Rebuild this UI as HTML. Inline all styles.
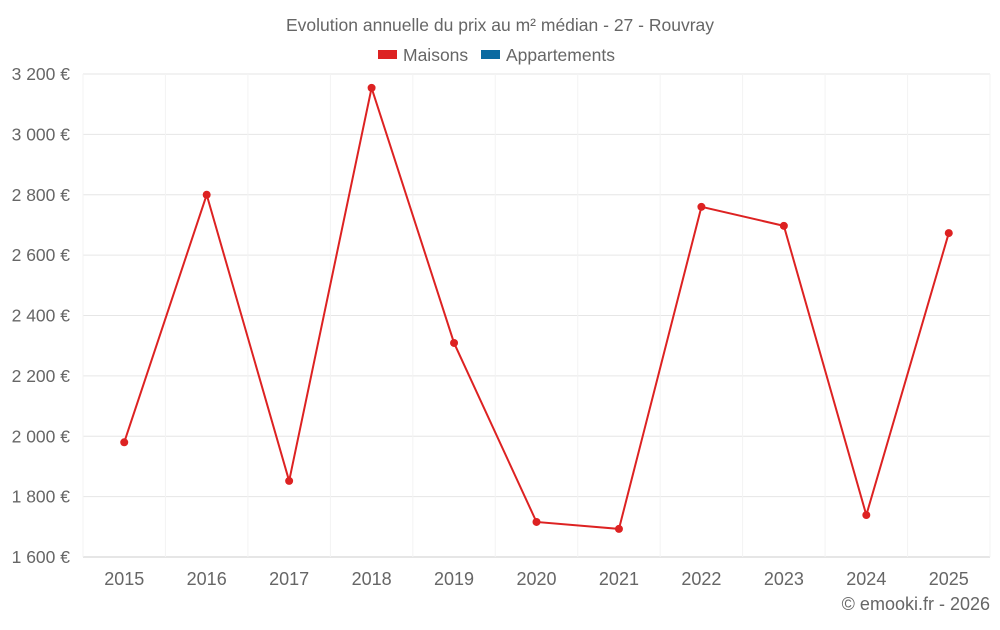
<!DOCTYPE html>
<html><head><meta charset="utf-8"><style>
body{margin:0;background:#fff;font-family:"Liberation Sans",sans-serif}
svg text{font-family:"Liberation Sans",sans-serif;fill:#666}
</style></head><body>
<svg id="c" width="1000" height="625">
<text x="500" y="31" text-anchor="middle" font-size="17.5">Evolution annuelle du prix au m² médian - 27 - Rouvray</text>
<g>
<g><rect x="378" y="50" width="19" height="9" fill="#dd2222"/><text x="403" y="61" font-size="17.5">Maisons</text></g>
<g><rect x="481" y="50" width="19" height="9" fill="#0a6aa1"/><text x="506" y="61" font-size="17.5">Appartements</text></g>
</g>
<g id="grid"></g><g id="axes"></g><g id="series"></g>
<text x="990" y="610" text-anchor="end" font-size="18">© emooki.fr - 2026</text>
</svg>
<script>
const years=[2015,2016,2017,2018,2019,2020,2021,2022,2023,2024,2025];
const maisons=[1980,2800,1852,3154,2309,1716,1693,2760,2697,1739,2673];
const yTicks=[1600,1800,2000,2200,2400,2600,2800,3000,3200];
const ns="http://www.w3.org/2000/svg";
const L=83,R=990,T=74,B=557,yMin=1600,yMax=3200;
const x=i=>L+(R-L)/years.length*(i+0.5);
const y=v=>B-(v-yMin)/(yMax-yMin)*(B-T);
function mk(t,a,p){const e=document.createElementNS(ns,t);for(const k in a)e.setAttribute(k,a[k]);p.appendChild(e);return e;}
const g=document.getElementById('grid'),ax=document.getElementById('axes'),s=document.getElementById('series');
yTicks.forEach(v=>{
const l=mk('line',{x1:L,x2:R,y1:y(v),y2:y(v),stroke:v===yMin?'#ccc':'#e6e6e6'},g);


const t=mk('text',{x:70,y:y(v)+6,'text-anchor':'end','font-size':17.5},ax);
t.textContent=v.toLocaleString('fr-FR').replace(/\s/g,' ')+' €';


});
for(let i=0;i<=years.length;i++){const xx=L+(R-L)/years.length*i;const l=mk('line',{x1:xx,x2:xx,y1:T,y2:B,stroke:'#f3f3f3'},g);

}
years.forEach((yr,i)=>{const t=mk('text',{x:x(i),y:585,'text-anchor':'middle','font-size':18},ax);t.textContent=yr;

});
const line=mk('polyline',{points:maisons.map((v,i)=>x(i)+','+y(v)).join(' '),fill:'none',stroke:'#dd2222','stroke-width':2},s);


maisons.forEach((v,i)=>{const c=mk('circle',{cx:x(i),cy:y(v),r:4,fill:'#dd2222'},s);

});
</script>
</body></html>
